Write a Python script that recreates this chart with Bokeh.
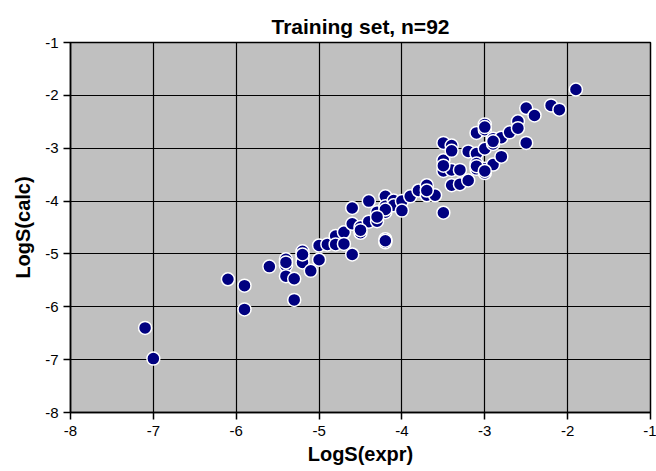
from bokeh.plotting import figure
from bokeh.models import FixedTicker, Range1d, ColumnDataSource
from bokeh.embed import file_html
from bokeh.resources import INLINE

# Data
logs_expr = [-7.1, -7.0, -6.1, -5.9, -5.9, -5.6, -5.4, -5.4, -5.4, -5.3,
             -5.3, -5.2, -5.2, -5.2, -5.1, -5.0, -5.0, -4.9, -4.8, -4.8,
             -4.7, -4.7, -4.6, -4.6, -4.6, -4.5, -4.5, -4.4, -4.4, -4.3,
             -4.3, -4.2, -4.2, -4.2, -4.2, -4.2, -4.1, -4.1, -4.0, -4.0,
             -3.9, -3.8, -3.7, -3.7, -3.6, -3.5, -3.5, -3.5, -3.5, -3.4,
             -3.4, -3.4, -3.4, -3.3, -3.3, -3.2, -3.2, -3.1, -3.1, -3.1,
             -3.1, -3.0, -3.0, -3.0, -3.0, -3.0, -2.9, -2.9, -2.9, -2.8,
             -2.8, -2.7, -2.6, -2.6, -2.5, -2.5, -2.4, -2.2, -2.1, -1.9,
             -3.0, -3.1, -3.0, -4.5, -5.2, -5.4, -4.2, -3.5, -4.2, -3.7,
             -2.9, -4.3]
logs_calc = [-6.40, -6.98, -5.48, -5.60, -6.05, -5.24, -5.10, -5.22, -5.42, -5.47,
             -5.87, -4.95, -5.06, -5.16, -5.32, -4.84, -5.11, -4.82, -4.66, -4.82,
             -4.59, -4.81, -4.13, -4.43, -5.01, -4.49, -4.60, -4.00, -4.39, -4.21,
             -4.38, -3.91, -4.10, -4.21, -4.72, -4.78, -3.99, -4.08, -4.00, -4.18,
             -3.91, -3.80, -3.70, -3.89, -3.89, -4.22, -2.90, -3.23, -3.43, -2.95,
             -3.05, -3.41, -3.70, -3.41, -3.68, -3.06, -3.61, -2.71, -3.10, -3.29,
             -3.39, -2.55, -2.65, -3.01, -3.39, -3.47, -2.82, -2.92, -3.31, -2.80,
             -3.16, -2.70, -2.49, -2.62, -2.24, -2.90, -2.38, -2.19, -2.27, -1.89,
             -2.60, -3.34, -3.43, -4.55, -5.01, -5.16, -4.75, -3.33, -4.16, -3.80,
             -2.87, -4.30]
axis_ticks = [-8, -7, -6, -5, -4, -3, -2, -1]
tick_labels = ["-8", "-7", "-6", "-5", "-4", "-3", "-2", "-1"]

title_text = "Training set, n=92"
x_label = "LogS(expr)"
y_label = "LogS(calc)"

FONT = "Liberation Sans"

src = ColumnDataSource(data=dict(x=logs_expr, y=logs_calc))

p = figure(width=656, height=471, output_backend="svg", toolbar_location=None,
           x_range=Range1d(-8, -1), y_range=Range1d(-8, -1),
           min_border_left=70, min_border_right=6, min_border_top=42,
           min_border_bottom=59)

p.title.text = title_text
p.title.align = "center"
p.title.text_font = FONT
p.title.text_font_size = "21px"
p.title.text_font_style = "bold"
p.title.text_color = "black"

p.background_fill_color = "#C0C0C0"
p.border_fill_color = "white"
p.outline_line_color = "black"
p.outline_line_width = 1.5

overrides = {t: lab for t, lab in zip(axis_ticks, tick_labels)}
for ax in (p.xaxis, p.yaxis):
    ax.ticker = FixedTicker(ticks=axis_ticks)
    ax.major_label_overrides = overrides
    ax.minor_tick_line_color = None
    ax.major_tick_in = 0
    ax.major_tick_out = 7
    ax.major_tick_line_color = "black"
    ax.major_tick_line_width = 1.5
    ax.axis_line_color = "black"
    ax.axis_line_width = 1.5
    ax.major_label_text_font = FONT
    ax.major_label_text_font_size = "15px"
    ax.major_label_text_color = "black"
    ax.axis_label_text_font = FONT
    ax.axis_label_text_font_size = "20px"
    ax.axis_label_text_font_style = "bold"
    ax.axis_label_text_color = "black"

p.xaxis.axis_label = x_label
p.yaxis.axis_label = y_label
p.xaxis.major_label_standoff = 6
p.yaxis.major_label_standoff = 5
p.xaxis.axis_label_standoff = 4
p.yaxis.axis_label_standoff = 8

for g in (p.xgrid, p.ygrid):
    g.ticker = FixedTicker(ticks=axis_ticks)
    g.grid_line_color = "black"
    g.grid_line_width = 1.2

p.scatter("x", "y", source=src, size=13, fill_color="#000080",
          line_color="white", line_width=1.5)

open("out.html", "w").write(file_html(p, INLINE))
